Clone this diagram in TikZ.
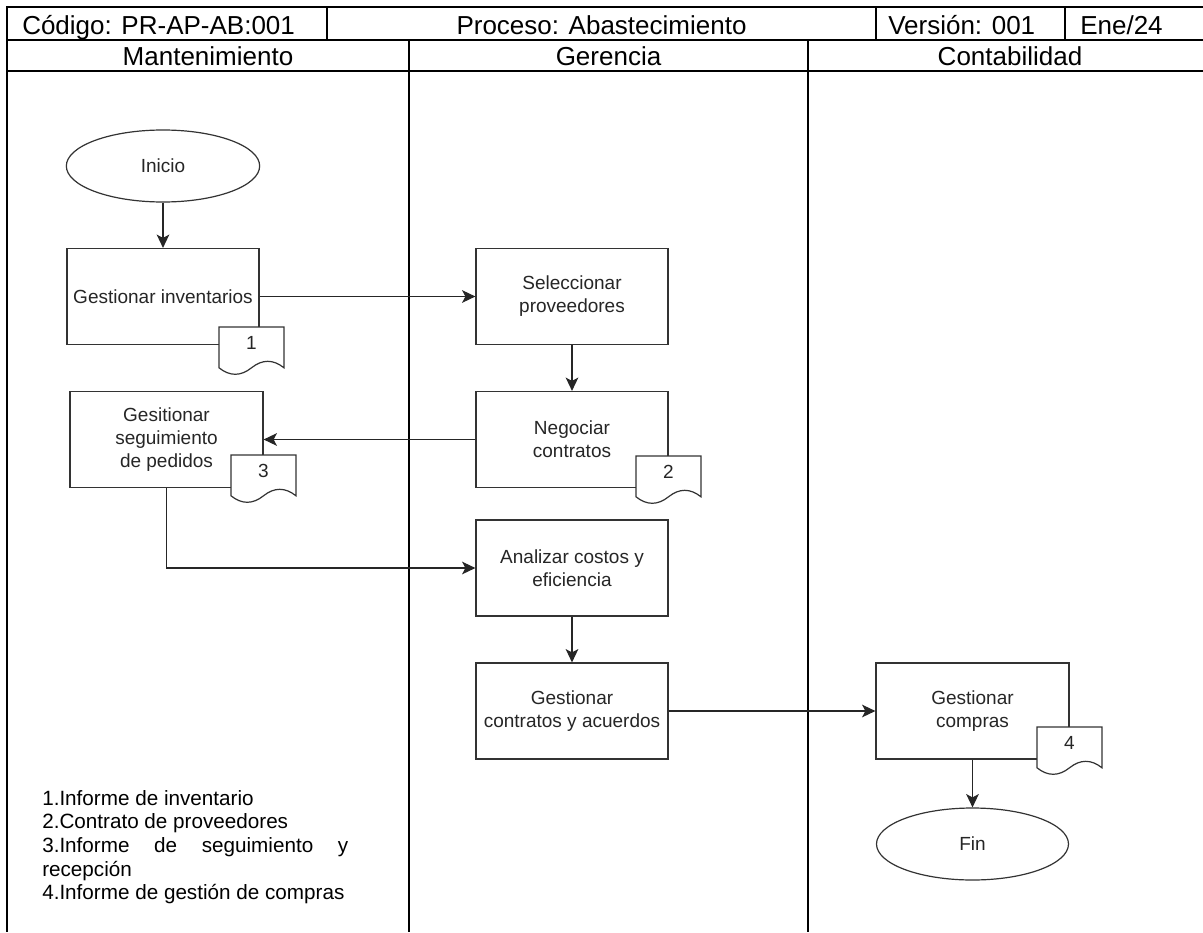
\documentclass[tikz,border=0pt]{standalone}
\usepackage{fontspec}
\setmainfont{Liberation Sans}
\usetikzlibrary{shapes.geometric,arrows.meta}

\tikzset{
  rule/.style={line width=1.5pt, black},
  head/.style={inner sep=0pt, font=\fontsize{19.5}{20}\selectfont},
  legend/.style={inner sep=0pt, font=\fontsize{15.5}{18}\selectfont},
  stepbox/.style={draw=black!80, line width=0.9pt, fill=white,
    minimum width=144pt, minimum height=72pt, inner sep=0pt, align=center,
    text=black!85, font=\fontsize{14.25}{17.25}\selectfont},
  terminal/.style={ellipse, draw=black!80, line width=0.9pt, fill=white,
    minimum width=145pt, minimum height=54pt, inner sep=0pt,
    text=black!85, font=\fontsize{14.25}{17.25}\selectfont},
  flow/.style={draw=black!85, line width=0.9pt,
    -{Stealth[length=10pt, width=9.5pt, inset=2.5pt]}},
  docline/.style={draw=black!80, line width=0.9pt, fill=white},
  docnum/.style={inner sep=0pt, text=black!85, font=\fontsize{14.25}{17.25}\selectfont},
  pics/docsheet/.style={code={
    \path[docline] (0,0) -- (65,0) -- (65,40.8)
      .. controls (54.17,32.16) and (43.33,32.16) .. (32.5,40.8)
      .. controls (21.67,49.44) and (10.83,49.44) .. (0,40.8) -- cycle;
    \node[docnum] (-n) at (32.5,16) {#1};
  }}
}

\begin{document}
\begin{tikzpicture}[x=0.75pt,y=-0.75pt]
\useasboundingbox (0,0) rectangle (1203,932);

% header grid and swimlanes
\draw[rule] (1203,7) -- (7,7) -- (7,932);
\draw[rule] (7,40) -- (1203,40);
\draw[rule] (7,71) -- (1203,71);
\draw[rule] (327,7) -- (327,40);
\draw[rule] (876,7) -- (876,40);
\draw[rule] (1065,7) -- (1065,40);
\draw[rule] (409,40) -- (409,932);
\draw[rule] (808,40) -- (808,932);

% header texts
\node[head, anchor=base west] (code) at (22,34) {Código: PR-AP-AB:001};
\node[head, anchor=base] (proc) at (601.5,34) {Proceso: Abastecimiento};
\node[head, anchor=base west] (ver) at (888,34) {Versión: 001};
\node[head, anchor=base west] (date) at (1080,34) {Ene/24};
\node[head, anchor=base] (lmant) at (208,65) {Mantenimiento};
\node[head, anchor=base] (lger) at (608.5,65) {Gerencia};
\node[head, anchor=base] (lcont) at (1010,65) {Contabilidad};

% process steps
\node[terminal] (inicio) at (163,166) {Inicio};
\node[stepbox] (inv) at (163,296.5) {Gestionar inventarios};
\node[stepbox] (sel) at (572,296.5) {Seleccionar\\proveedores};
\node[stepbox] (neg) at (572,439.5) {Negociar\\contratos};
\node[stepbox, minimum width=144.75pt] (seg) at (166.5,439.5) {Gesitionar\\seguimiento\\de pedidos};
\node[stepbox] (ana) at (572,568) {Analizar costos y\\eficiencia};
\node[stepbox] (con) at (572,711) {Gestionar\\contratos y acuerdos};
\node[stepbox, minimum width=144.75pt] (compras) at (972.5,711) {Gestionar\\compras};
\node[terminal, minimum width=144pt] (fin) at (972.5,844) {Fin};

% documents produced
\pic (doc1) at (219,327) {docsheet=1};
\pic (doc2) at (636,456) {docsheet=2};
\pic (doc3) at (231,455) {docsheet=3};
\pic (doc4) at (1037,727) {docsheet=4};

% connectors
\draw[flow] (inicio.south) -- (inv.north);
\draw[flow] (inv.east) -- (sel.west);
\draw[flow] (sel.south) -- (neg.north);
\draw[flow] (neg.west) -- (seg.east);
\draw[flow] (seg.south) |- (ana.west);
\draw[flow] (ana.south) -- (con.north);
\draw[flow] (con.east) -- (compras.west);
\draw[flow] (compras.south) -- (fin.north);

% legend of documents
\node[legend, anchor=base west] (l1) at (42,805) {1.Informe de inventario};
\node[legend, anchor=base west] (l2) at (42,828.7) {2.Contrato de proveedores};
\node[legend, anchor=base west] (l3) at (42,852.4) {\makebox[229.5pt][s]{3.Informe de seguimiento y}};
\node[legend, anchor=base west] (l3b) at (42,876) {recepción};
\node[legend, anchor=base west] (l4) at (42,899.8) {4.Informe de gestión de compras};
\end{tikzpicture}
\end{document}
